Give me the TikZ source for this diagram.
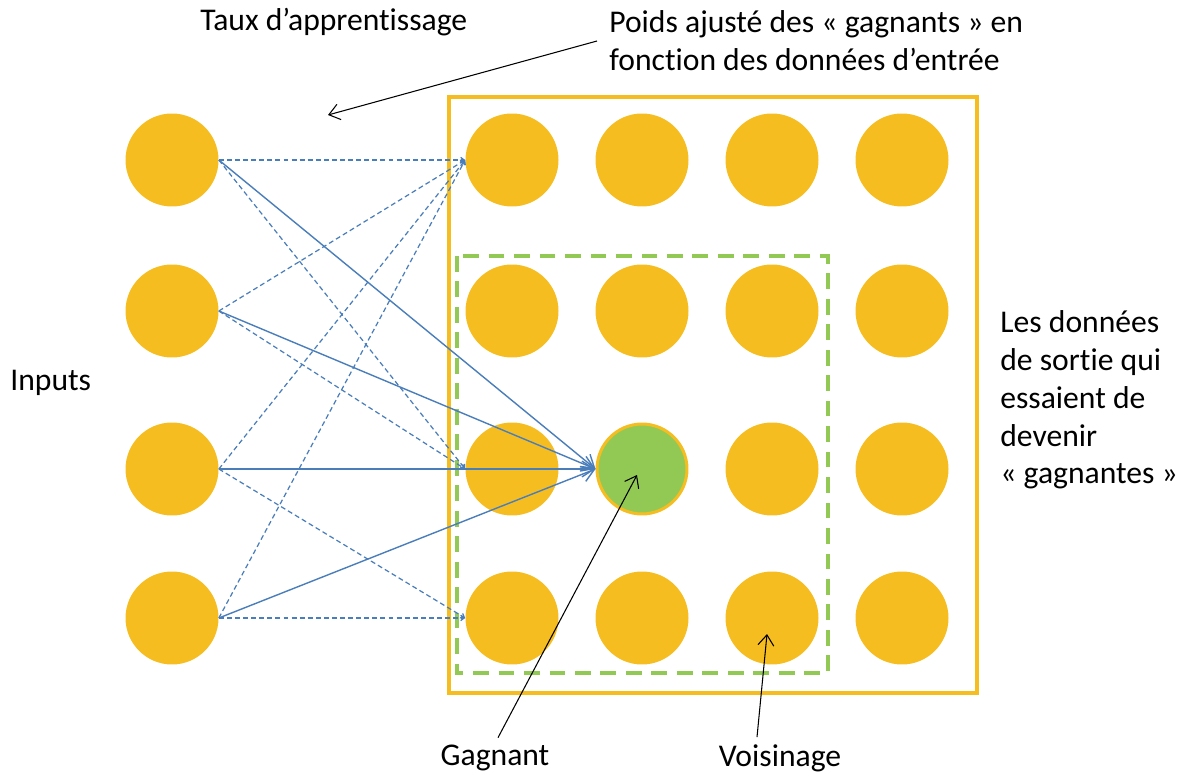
\documentclass[tikz,border=0pt]{standalone}
\usepackage{fontspec}
\setmainfont{Carlito}[Ligatures=NoCommon]
\usetikzlibrary{arrows.meta}
\definecolor{gold}{HTML}{F6BD21}
\definecolor{leaf}{HTML}{92C955}
\definecolor{wire}{HTML}{4A7EBB}

\begin{document}
\begin{tikzpicture}[x=0.02cm, y=-0.02cm,
	neuron/.style={circle, fill=gold, inner sep=0pt, minimum size=1.86cm},
	winner/.style={neuron, fill=leaf, draw=gold, line width=1.7pt, minimum size=1.8cm},
	weight/.style={wire, line width=0.7pt, dash pattern=on 2.8pt off 1.8pt, -{Straight Barb[length=2pt,width=3pt]}},
	link/.style={wire, line width=0.8pt, -{Straight Barb[length=7pt,width=9pt]}},
	pointer/.style={black, line width=0.6pt, -{Straight Barb[length=6pt,width=9pt]}},
	label/.style={font=\fontsize{18}{21.5}\selectfont, inner sep=0pt}]
	\useasboundingbox (0,0) rectangle (1185,776);

	% cadres
	\draw [gold, line width=2.2pt] (449,97) rectangle (977,693);
	\draw [leaf, line width=2.2pt, dash pattern=on 9pt off 5.5pt] (457,256) rectangle (828,673);

	% entrees
	\node [neuron] (in1) at (172,160) {};
	\node [neuron] (in2) at (172,311) {};
	\node [neuron] (in3) at (172,469) {};
	\node [neuron] (in4) at (172,618) {};

	% carte de sortie
	\node [neuron] (o11) at (512,160) {};
	\node [neuron] (o12) at (642,160) {};
	\node [neuron] (o13) at (772,160) {};
	\node [neuron] (o14) at (902,160) {};
	\node [neuron] (o21) at (512,311) {};
	\node [neuron] (o22) at (642,311) {};
	\node [neuron] (o23) at (772,311) {};
	\node [neuron] (o24) at (902,311) {};
	\node [neuron] (o31) at (512,469) {};
	\node [winner] (win) at (642,469) {};
	\node [neuron] (o33) at (772,469) {};
	\node [neuron] (o34) at (902,469) {};
	\node [neuron] (o41) at (512,618) {};
	\node [neuron] (o42) at (642,618) {};
	\node [neuron] (o43) at (772,618) {};
	\node [neuron] (o44) at (902,618) {};

	\draw [weight] (in1.east) -- (o11.west);
	\draw [weight] (in1.east) -- (o31.west);
	\draw [weight] (in2.east) -- (o11.west);
	\draw [weight] (in2.east) -- (o31.west);
	\draw [weight] (in3.east) -- (o11.west);
	\draw [weight] (in3.east) -- (o41.west);
	\draw [weight] (in4.east) -- (o11.west);
	\draw [weight] (in4.east) -- (o41.west);

	\draw [link] (in1.east) -- (win.west);
	\draw [link] (in2.east) -- (win.west);
	\draw [link] (in3.east) -- (win.west);
	\draw [link] (in4.east) -- (win.west);

	% textes
	\node [label, anchor=west] (rate) at (200,22) {Taux d'apprentissage};
	\node [label, anchor=west, align=left] (adjust) at (609,41) {Poids ajusté des « gagnants » en\\fonction des données d'entrée};
	\node [label, anchor=west] (inputs) at (10,383) {Inputs};
	\node [label, anchor=west, align=left] (outputs) at (1000,400) {Les données\\de sortie qui\\essaient de\\devenir\\« gagnantes »};
	\node [label] (gagnant) at (495,758) {Gagnant};
	\node [label] (voisin) at (780,758) {Voisinage};

	\coordinate (ratetip) at (328,115);
	\coordinate (wintip) at (637,475);
	\coordinate (voisintip) at (767,634);
	\draw [pointer] ([xshift=-0.24cm]adjust.west) -- (ratetip);
	\draw [pointer] ([xshift=0.06cm, yshift=4pt]gagnant.north) -- (wintip);
	\draw [pointer] ([xshift=-0.46cm, yshift=4pt]voisin.north) -- (voisintip);

\end{tikzpicture}
\end{document}
